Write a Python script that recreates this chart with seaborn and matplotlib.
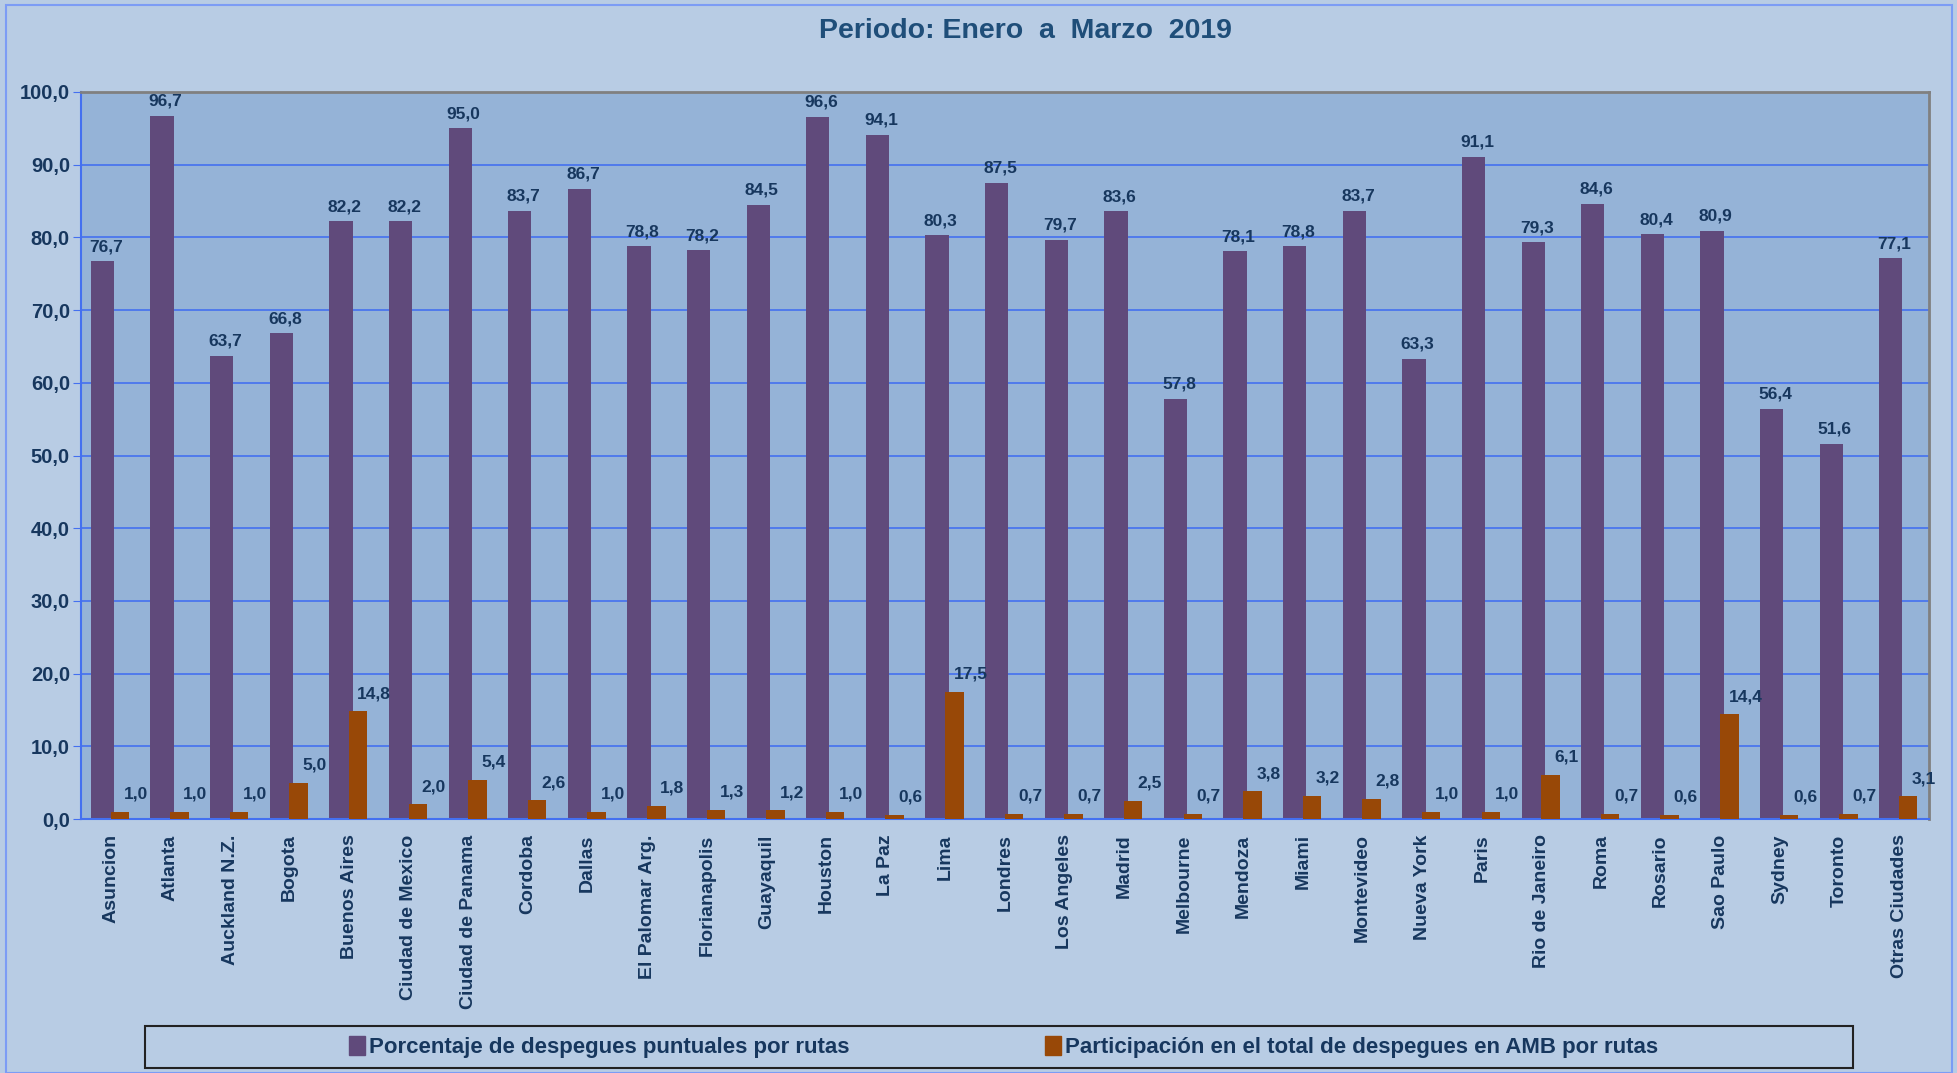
import numpy as np
import matplotlib
matplotlib.use("Agg")
import matplotlib.pyplot as plt
import matplotlib.patches as mpatches
import seaborn as sns

# datos: periodo enero a marzo 2019
ciudades = ["Asuncion", "Atlanta", "Auckland N.Z.", "Bogota", "Buenos Aires",
            "Ciudad de Mexico", "Ciudad de Panama", "Cordoba", "Dallas",
            "El Palomar Arg.", "Florianapolis", "Guayaquil", "Houston", "La Paz",
            "Lima", "Londres", "Los Angeles", "Madrid", "Melbourne", "Mendoza",
            "Miami", "Montevideo", "Nueva York", "Paris", "Rio de Janeiro", "Roma",
            "Rosario", "Sao Paulo", "Sydney", "Toronto", "Otras Ciudades"]
puntualidad = [76.7, 96.7, 63.7, 66.8, 82.2, 82.2, 95.0, 83.7, 86.7, 78.8,
               78.2, 84.5, 96.6, 94.1, 80.3, 87.5, 79.7, 83.6, 57.8, 78.1,
               78.8, 83.7, 63.3, 91.1, 79.3, 84.6, 80.4, 80.9, 56.4, 51.6, 77.1]
participacion = [1.0, 1.0, 1.0, 5.0, 14.8, 2.0, 5.4, 2.6, 1.0, 1.8,
                 1.3, 1.2, 1.0, 0.6, 17.5, 0.7, 0.7, 2.5, 0.7, 3.8,
                 3.2, 2.8, 1.0, 1.0, 6.1, 0.7, 0.6, 14.4, 0.6, 0.7, 3.1]
serie_1 = "Porcentaje de despegues puntuales por rutas"
serie_2 = "Participación en el total de despegues en AMB por rutas"
titulo = "Periodo: Enero  a  Marzo  2019"
yticks = np.arange(0, 101, 10)

MORADO = "#604A7B"
NARANJA = "#984807"
TEXTO = "#17375E"
AZUL = "#4470F0"

sns.set_style("white")
plt.rcParams["font.family"] = ["Liberation Sans", "DejaVu Sans"]
plt.rcParams["font.weight"] = "bold"

fig = plt.figure(figsize=(19.57, 10.73), dpi=100, facecolor="#B8CCE4")
ax = fig.add_axes([81 / 1957, 1 - 819 / 1073, 1848 / 1957, 727 / 1073])
ax.set_facecolor("#95B3D7")

n = len(ciudades)
sns.barplot(x=ciudades, y=puntualidad, order=ciudades, color=MORADO,
            saturation=1, width=0.39, ax=ax, zorder=2)
sns.barplot(x=ciudades, y=participacion, order=ciudades, color=NARANJA,
            saturation=1, width=0.31, ax=ax, zorder=3)
for p in ax.patches[:n]:
    p.set_x(p.get_x() - 0.14)
    p.set_edgecolor("none")
for p in ax.patches[n:]:
    p.set_x(p.get_x() + 0.15)
    p.set_edgecolor("none")

# etiquetas de datos
for i, (a, b) in enumerate(zip(puntualidad, participacion)):
    ax.text(i - 0.08, a + 2.0, f"{a:.1f}".replace(".", ","), ha="center",
            va="center", fontsize=12.5, color=TEXTO, zorder=4)
    ax.text(i + 0.42, b + 2.4, f"{b:.1f}".replace(".", ","), ha="center",
            va="center", fontsize=12.5, color=TEXTO, zorder=4)

ax.set_xlim(-0.5, n - 0.5)
ax.set_ylim(0, 100)
ax.set_yticks(yticks)
ax.set_yticklabels([f"{v:.1f}".replace(".", ",") for v in yticks],
                   fontsize=14.5, color=TEXTO)
ax.yaxis.grid(True, color=AZUL, linewidth=1.2, zorder=0)
ax.set_axisbelow(True)
ax.set_xticks(range(n))
ax.set_xticklabels(ciudades, rotation=90, fontsize=14, color=TEXTO)
ax.set_xticks(np.arange(-0.5, n, 1), minor=True)
ax.tick_params(axis="x", which="major", length=0, pad=11)
ax.tick_params(axis="x", which="minor", length=6, color=AZUL, direction="out")
ax.tick_params(axis="y", length=6, color=AZUL, direction="out", pad=2, left=True)
ax.set_xlabel("")
ax.set_ylabel("")
for s in ["left", "bottom"]:
    ax.spines[s].set_color(AZUL)
    ax.spines[s].set_linewidth(1.5)
for s in ["top", "right"]:
    ax.spines[s].set_color("#808080")
    ax.spines[s].set_linewidth(2)

fig.text(0.524, 1 - 31 / 1073, titulo, ha="center", va="center",
         fontsize=20.5, color="#1F4E79")

# borde exterior y caja de leyenda
fig.patches.append(mpatches.Rectangle((6 / 1957, 0), 1946 / 1957, 1068 / 1073,
                                      transform=fig.transFigure, fill=False,
                                      edgecolor="#7C9CF5", linewidth=1.5))
fig.patches.append(mpatches.Rectangle((145 / 1957, 1 - 1068 / 1073),
                                      1708 / 1957, 42 / 1073,
                                      transform=fig.transFigure, fill=False,
                                      edgecolor="#222222", linewidth=1.5))
handles = [mpatches.Patch(color=MORADO, label=serie_1),
           mpatches.Patch(color=NARANJA, label=serie_2)]
fig.legend(handles=handles, loc="center", bbox_to_anchor=(0.513, 1 - 1047 / 1073),
           ncol=2, frameon=False, handlelength=0.7, handleheight=0.9,
           handletextpad=0.2, columnspacing=8.8,
           prop={"size": 16, "weight": "bold"},
           labelcolor=TEXTO)

fig.savefig("out.png", dpi=100, facecolor=fig.get_facecolor())
